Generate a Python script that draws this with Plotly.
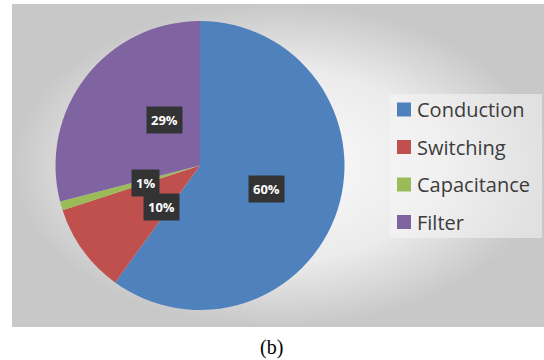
import math
import plotly.graph_objects as go

# Loss breakdown (percent of total)
categories = ["Conduction", "Switching", "Capacitance", "Filter"]
shares = [60, 10, 1, 29]
colors = ["#4f81bd", "#c0504d", "#9bbb59", "#8064a2"]
# small angular offsets (degrees) so the value boxes of thin slices don't collide
label_nudge_deg = [1, 0, 2, 2]
caption = "(b)"

W, H = 544, 360
cx_px, cy_px, r_px = 200.0, 165.5, 144.5
panel = dict(x0=12, x1=544, y0=4, y1=327)


def px_x(x):
    return x / W


def px_y(y):
    return 1 - y / H


fig = go.Figure()

# chart area with a soft radial shading
fig.add_trace(go.Scatter(
    x=[0, 1, 1, 0, 0], y=[0, 0, 1, 1, 0],
    mode="lines", fill="toself", line=dict(width=0),
    fillgradient=dict(type="radial",
                      colorscale=[[0, "#fcfcfc"], [0.6, "#ebebeb"], [1, "#c8c8c8"]]),
    hoverinfo="skip", showlegend=False,
))

fig.add_trace(go.Pie(
    labels=categories, values=shares, sort=False,
    direction="clockwise", rotation=0,
    marker=dict(colors=colors, line=dict(width=0)),
    textinfo="none", hoverinfo="label+percent", showlegend=False,
    domain=dict(x=[px_x(cx_px - r_px), px_x(cx_px + r_px)],
                y=[px_y(cy_px + r_px), px_y(cy_px - r_px)]),
))

annotations = []
total = sum(shares)
acc = 0
for v, nudge in zip(shares, label_nudge_deg):
    mid = (acc + v / 2) / total * 360 + nudge
    acc += v
    th = math.radians(mid)
    lx = cx_px + 0.49 * r_px * math.sin(th)
    ly = cy_px - 0.49 * r_px * math.cos(th)
    annotations.append(dict(
        x=px_x(lx), y=px_y(ly), xref="paper", yref="paper",
        text=f"<b>{v}%</b>", showarrow=False, bgcolor="#333333", borderpad=4,
        font=dict(family="Open Sans", size=13, color="#ffffff"),
    ))

shapes = [
    # legend background
    dict(type="rect", xref="paper", yref="paper",
         x0=px_x(390), x1=px_x(542), y0=px_y(238), y1=px_y(94),
         fillcolor="rgba(245,245,245,0.55)", line=dict(width=0), layer="above"),
]

# legend entries
row0, row_gap, sq = 109.5, 37.5, 14
for i, (name, col) in enumerate(zip(categories, colors)):
    yc = row0 + i * row_gap
    shapes.append(dict(
        type="rect", xref="paper", yref="paper",
        x0=px_x(397), x1=px_x(397 + sq), y0=px_y(yc + sq / 2), y1=px_y(yc - sq / 2),
        fillcolor=col, line=dict(width=0), layer="above",
    ))
    annotations.append(dict(
        x=px_x(415), y=px_y(yc), xref="paper", yref="paper",
        xanchor="left", yanchor="middle", text=name, showarrow=False,
        font=dict(family="Open Sans", size=20, color="#3c3c3c"),
    ))

annotations.append(dict(
    x=px_x(271), y=px_y(347), xref="paper", yref="paper",
    text=caption, showarrow=False, xanchor="center", yanchor="middle",
    font=dict(family="Liberation Serif", size=20, color="#000000"),
))

fig.update_layout(
    width=W, height=H, margin=dict(l=0, r=0, t=0, b=0),
    paper_bgcolor="#ffffff", plot_bgcolor="rgba(0,0,0,0)",
    xaxis=dict(domain=[px_x(panel["x0"]), px_x(panel["x1"])], range=[0, 1],
               visible=False, fixedrange=True),
    yaxis=dict(domain=[px_y(panel["y1"]), px_y(panel["y0"])], range=[0, 1],
               visible=False, fixedrange=True),
    shapes=shapes, annotations=annotations, showlegend=False,
)

fig.write_html("out.html")
